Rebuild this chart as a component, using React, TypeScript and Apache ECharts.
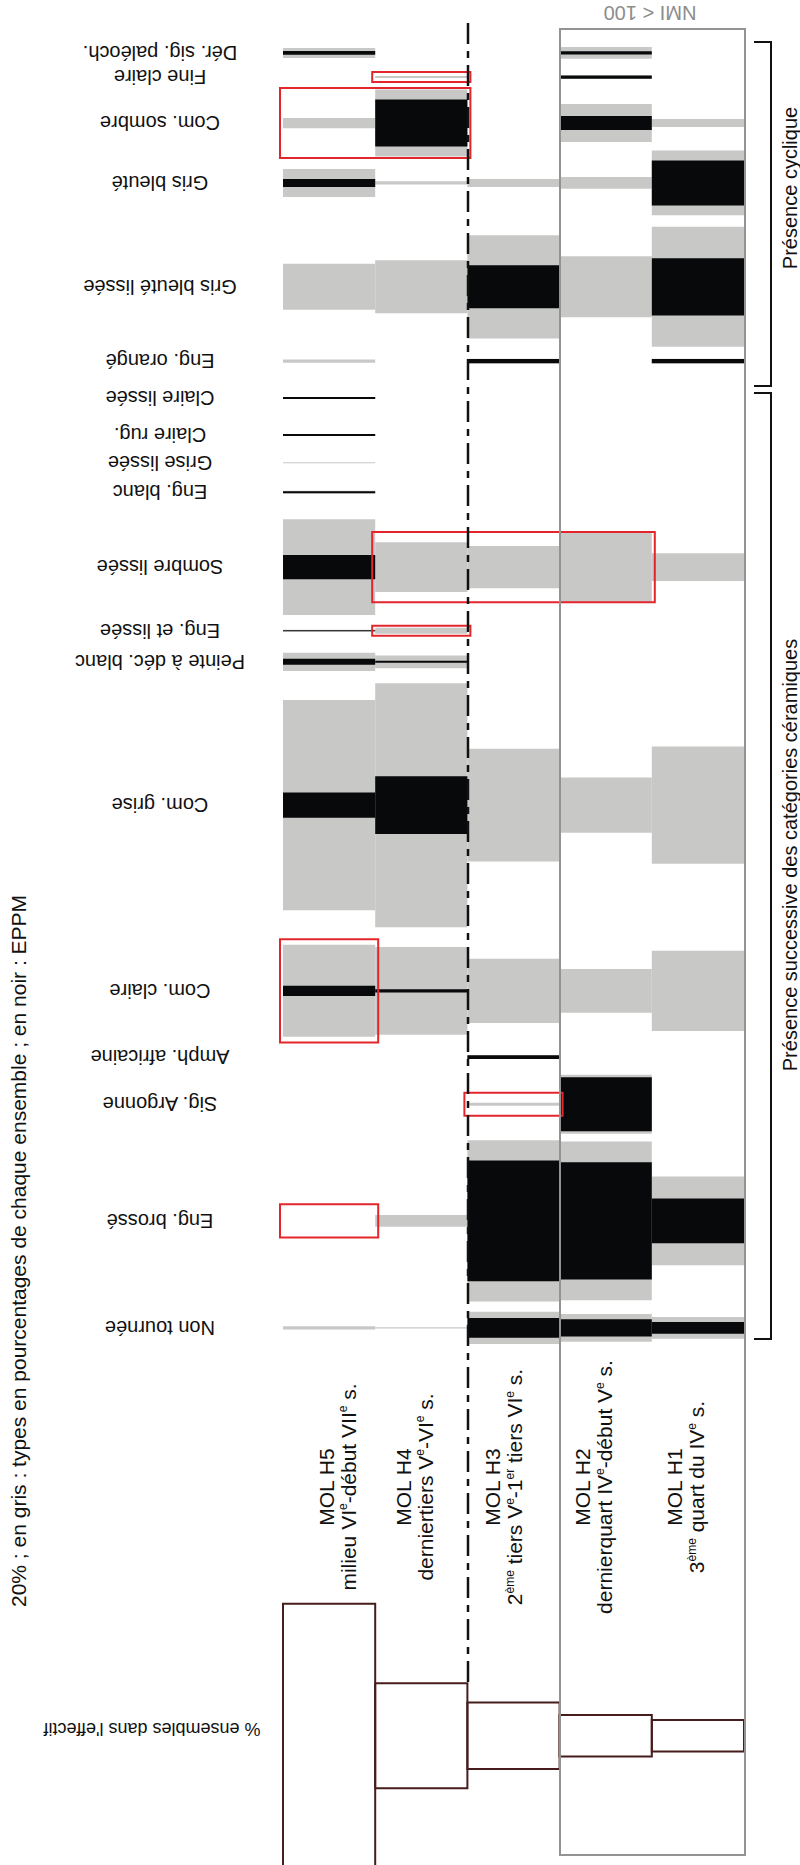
import React, { useEffect, useRef } from 'react';
import * as echarts from 'echarts';

// ---- data ----
const ensembles = ['MOL H5', 'MOL H4', 'MOL H3', 'MOL H2', 'MOL H1'];
const ensembleDates = [
  'milieu VI{sup|e}-début VII{sup|e} s.',
  'derniertiers V{sup|e}-VI{sup|e} s.',
  '2{sup|ème} tiers V{sup|e}-1{sup|er} tiers VI{sup|e} s.',
  'dernierquart IV{sup|e}-début V{sup|e} s.',
  '3{sup|ème} quart du IV{sup|e} s.',
];

const categories = [
  'Dér. sig. paléoch.',
  'Fine claire',
  'Com. sombre',
  'Gris bleuté',
  'Gris bleuté lissée',
  'Eng. orangé',
  'Claire lissée',
  'Claire rug.',
  'Grise lissée',
  'Eng. blanc',
  'Sombre lissée',
  'Eng. et lissée',
  'Peinte à déc. blanc',
  'Com. grise',
  'Com. claire',
  'Amph. africaine',
  'Sig. Argonne',
  'Eng. brossé',
  'Non tournée',
];

// position of each category along the seriation axis (in % units)
const categoryPos = [
  9.9, 14.4, 23.0, 34.2, 53.6, 67.5, 74.4, 81.3, 86.5, 92.0,
  106.0, 117.9, 123.7, 150.5, 185.2, 197.6, 206.4, 228.2, 248.2,
];

// grey: types in % of each ensemble (columns H5, H4, H3, H2, H1)
const grayPct = [
  [1.9, 0, 0, 2.2, 0],
  [0, 0.4, 0, 0.6, 0],
  [1.9, 12.5, 0, 7.1, 1.5],
  [5.2, 0.6, 1.5, 2.2, 12.1],
  [8.6, 9.9, 19.3, 11.4, 22.4],
  [0.6, 0, 0.9, 0, 0.9],
  [0.4, 0, 0, 0, 0],
  [0.4, 0, 0, 0, 0],
  [0.2, 0, 0, 0, 0],
  [0.5, 0, 0, 0, 0],
  [17.9, 9.3, 7.9, 13.1, 5.2],
  [0.4, 1.1, 0, 0, 0],
  [3.4, 2.4, 0, 0, 0],
  [39.3, 45.6, 21.1, 10.3, 21.9],
  [17.2, 16.4, 12.0, 8.2, 15.0],
  [0, 0, 0.7, 0, 0],
  [0, 0, 0.6, 11.0, 0],
  [0, 2.2, 30.1, 29.7, 16.6],
  [0.6, 0.2, 6.0, 5.2, 4.1],
];

// black: EPPM
const blackPct = [
  [0.7, 0, 0, 0.6, 0],
  [0, 0, 0, 0.6, 0],
  [0, 8.8, 0, 2.6, 0],
  [1.5, 0, 0, 0, 8.4],
  [0, 0, 8.0, 0, 10.7],
  [0, 0, 0.8, 0, 0.8],
  [0.4, 0, 0, 0, 0],
  [0.4, 0, 0, 0, 0],
  [0, 0, 0, 0, 0],
  [0.4, 0, 0, 0, 0],
  [4.5, 0, 0, 0, 0],
  [0.2, 0, 0, 0, 0],
  [1.1, 0.4, 0, 0, 0],
  [4.7, 10.8, 0, 0, 0],
  [1.9, 0.6, 0, 0, 0],
  [0, 0, 0.7, 0, 0],
  [0, 0, 0, 10.1, 0],
  [0, 0, 22.6, 21.9, 8.4],
  [0, 0, 3.7, 3.2, 2.2],
];

// red highlights: [category index, first column, last column, extent in %]
const highlights = [
  [1, 1, 1, 1.9],
  [2, 0, 1, 13.1],
  [10, 1, 3, 13.1],
  [11, 1, 1, 1.9],
  [14, 0, 0, 19.3],
  [16, 2, 2, 4.3],
  [17, 0, 0, 6.2],
];

// % of the ensembles in the total count
const effectif = [52.5, 20.9, 13.2, 8.3, 6.3];

const FONT = '"Liberation Sans", Arial, Helvetica, sans-serif';
const GRAY = '#c8c8c6';
const BLACK = '#07090a';

function buildOption() {
  const grayData: number[][] = [];
  const blackData: number[][] = [];
  categories.forEach((_, i) => {
    for (let j = 0; j < ensembles.length; j++) {
      if (grayPct[i][j] > 0) grayData.push([j, categoryPos[i], grayPct[i][j]]);
      if (blackPct[i][j] > 0) blackData.push([j, categoryPos[i], blackPct[i][j]]);
    }
  });

  const barRender = (color: string) => (params: any, api: any) => {
    const col = api.value(0);
    const pos = api.value(1);
    const pct = api.value(2);
    const a = api.coord([col, pos - pct / 2]);
    const b = api.coord([col + 1, pos + pct / 2]);
    return {
      type: 'rect',
      shape: { x: a[0], y: Math.min(a[1], b[1]), width: b[0] - a[0], height: Math.abs(b[1] - a[1]) },
      style: { fill: color },
    };
  };

  const supRich = {
    sup: { fontSize: 12, fontFamily: FONT, verticalAlign: 'top', lineHeight: 22, fill: '#111' },
  };

  const labelOffsets = [8, -7, -10, -12, -12];

  return {
    animation: false,
    grid: [
      { left: 283, width: 461, top: 0, height: 1600 },
      { left: 283, width: 461, top: 1606.5, height: 260 },
    ],
    xAxis: [
      { type: 'value', gridIndex: 0, min: 0, max: 5, show: false },
      { type: 'value', gridIndex: 1, min: 0, max: 5, show: false },
    ],
    yAxis: [
      { type: 'value', gridIndex: 0, min: 0, max: 1600 / 5.35, inverse: true, show: false },
      { type: 'value', gridIndex: 1, min: -25.7, max: 25.7, inverse: true, show: false },
    ],
    series: [
      {
        type: 'custom', name: 'types', xAxisIndex: 0, yAxisIndex: 0, silent: true,
        data: grayData, encode: { x: 0, y: 1 }, renderItem: barRender(GRAY), z: 2,
      },
      {
        type: 'custom', name: 'EPPM', xAxisIndex: 0, yAxisIndex: 0, silent: true,
        data: blackData, encode: { x: 0, y: 1 }, renderItem: barRender(BLACK), z: 3,
      },
      {
        type: 'custom', name: 'highlights', xAxisIndex: 0, yAxisIndex: 0, silent: true, z: 6,
        data: highlights.map((h) => [h[1], categoryPos[h[0]], h[3], h[2]]),
        encode: { x: 0, y: 1 },
        renderItem: (params: any, api: any) => {
          const c0 = api.value(0);
          const pos = api.value(1);
          const pct = api.value(2);
          const c1 = api.value(3);
          const a = api.coord([c0, pos - pct / 2]);
          const b = api.coord([c1 + 1, pos + pct / 2]);
          return {
            type: 'rect',
            shape: { x: a[0] - 3, y: Math.min(a[1], b[1]), width: b[0] - a[0] + 6, height: Math.abs(b[1] - a[1]) },
            style: { fill: 'none', stroke: '#e4262c', lineWidth: 2 },
          };
        },
      },
      {
        type: 'custom', name: 'categories', xAxisIndex: 0, yAxisIndex: 0, silent: true,
        data: categoryPos.map((p, i) => [0, p, i]),
        encode: { x: 0, y: 1 },
        renderItem: (params: any, api: any) => {
          const y = api.coord([0, api.value(1)])[1];
          return {
            type: 'text', x: 160, y, rotation: Math.PI,
            style: {
              text: categories[api.value(2)], fill: '#111', fontSize: 20, fontFamily: FONT,
              align: 'center', verticalAlign: 'middle',
            },
          };
        },
      },
      {
        type: 'custom', name: 'ensembles', xAxisIndex: 0, yAxisIndex: 0, silent: true,
        data: ensembles.map((_, j) => [j + 0.5, 0, j]),
        encode: { x: 0, y: 1 },
        renderItem: (params: any, api: any) => {
          const j = api.value(2);
          const x = api.coord([api.value(0), 0])[0] + labelOffsets[j];
          return {
            type: 'text', x, y: 1487, rotation: Math.PI / 2,
            style: {
              text: ensembles[j] + '\n' + ensembleDates[j], fill: '#111', fontSize: 21, fontFamily: FONT,
              lineHeight: 22, align: 'center', verticalAlign: 'middle', rich: supRich,
            },
          };
        },
      },
      {
        type: 'custom', name: 'effectif', xAxisIndex: 1, yAxisIndex: 1, silent: true, z: 4,
        data: effectif.map((v, j) => [j, 0, v]),
        encode: { x: 0, y: 1 },
        renderItem: (params: any, api: any) => {
          const col = api.value(0);
          const pct = api.value(2);
          const a = api.coord([col, -pct / 2]);
          const b = api.coord([col + 1, pct / 2]);
          return {
            type: 'rect',
            shape: { x: a[0], y: Math.min(a[1], b[1]), width: b[0] - a[0], height: Math.abs(b[1] - a[1]) },
            style: { fill: 'none', stroke: '#461c1c', lineWidth: 2 },
          };
        },
      },
    ],
    graphic: [
      {
        type: 'rect', z: 100, silent: true,
        shape: { x: 560, y: 29, width: 185, height: 1826 },
        style: { fill: 'none', stroke: '#939393', lineWidth: 2 },
      },
      {
        type: 'text', z: 100, x: 650, y: 13, rotation: Math.PI, silent: true,
        style: { text: 'NMI < 100', fill: '#8c8c8c', fontSize: 20, fontFamily: FONT, align: 'center', verticalAlign: 'middle' },
      },
      {
        type: 'line', z: 100, silent: true,
        shape: { x1: 468, y1: 23, x2: 468, y2: 1683 },
        style: { stroke: '#111', lineWidth: 2.5, lineDash: [21, 7, 7, 7] },
      },
      {
        type: 'polyline', z: 100, silent: true,
        shape: { points: [[754, 42], [771, 42], [771, 386], [754, 386]] },
        style: { stroke: '#111', lineWidth: 2, fill: 'none' },
      },
      {
        type: 'polyline', z: 100, silent: true,
        shape: { points: [[754, 393], [771, 393], [771, 1339], [754, 1339]] },
        style: { stroke: '#111', lineWidth: 2, fill: 'none' },
      },
      {
        type: 'text', z: 100, x: 790, y: 188, rotation: Math.PI / 2, silent: true,
        style: { text: 'Présence cyclique', fill: '#111', fontSize: 20, fontFamily: FONT, align: 'center', verticalAlign: 'middle' },
      },
      {
        type: 'text', z: 100, x: 790, y: 855, rotation: Math.PI / 2, silent: true,
        style: {
          text: 'Présence successive des catégories céramiques', fill: '#111', fontSize: 20, fontFamily: FONT,
          align: 'center', verticalAlign: 'middle',
        },
      },
      {
        type: 'text', z: 100, x: 18, y: 1607, rotation: Math.PI / 2, silent: true,
        style: {
          text: '20% ; en gris : types en pourcentages de chaque ensemble ; en noir : EPPM',
          fill: '#111', fontSize: 21, fontFamily: FONT, align: 'left', verticalAlign: 'middle',
        },
      },
      {
        type: 'text', z: 100, x: 152, y: 1729, rotation: Math.PI, silent: true,
        style: { text: "% ensembles dans l'effectif", fill: '#111', fontSize: 18, fontFamily: FONT, align: 'center', verticalAlign: 'middle' },
      },
    ],
  };
}

export default function App() {
  const ref = useRef<HTMLDivElement>(null);
  useEffect(() => {
    if (!ref.current) return;
    const chart = echarts.init(ref.current, undefined, { renderer: 'svg' });
    chart.setOption(buildOption() as any);
    return () => chart.dispose();
  }, []);
  return (
    <div
      ref={ref}
      style={{ position: 'absolute', left: 0, top: 0, width: 800, height: 1865, background: '#fff' }}
    />
  );
}
